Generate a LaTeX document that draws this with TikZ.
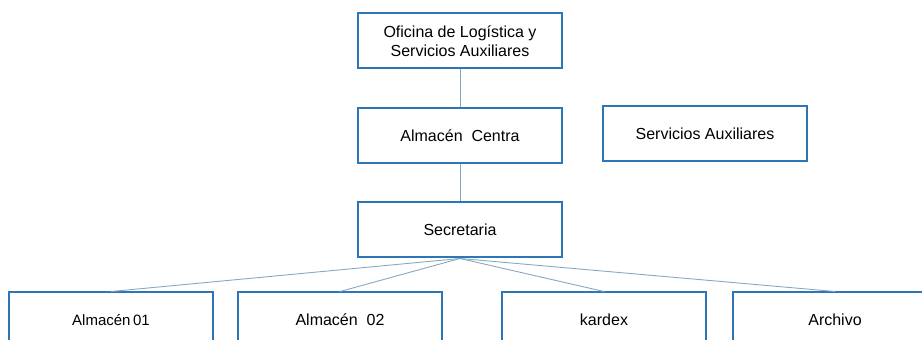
\documentclass[tikz,border=0pt]{standalone}
\usepackage{fontspec}
\setmainfont{Liberation Sans}
\usepackage{tikz}
\usetikzlibrary{positioning}

\definecolor{boxblue}{RGB}{46,117,182}
\definecolor{linkgray}{RGB}{135,168,195}

\begin{document}
\begin{tikzpicture}[x=1pt, y=1pt,
    unit/.style={draw=boxblue, line width=2pt, fill=white, minimum width=204pt,
        minimum height=55pt, inner sep=0pt, align=center,
        font=\fontsize{16}{19}\selectfont},
    link/.style={draw=linkgray, line width=0.9pt}]

\useasboundingbox (0,0) rectangle (922,340);

\node[unit] (ofi) at (460,299) {Oficina de Log\'istica y\\Servicios Auxiliares};
\node[unit] (cen) at (460,204) {Almac\'en\ \ Centra};
\node[unit] (aux) at (705,206) {Servicios Auxiliares};
\node[unit] (sec) at (460,110) {Secretaria};

\node[unit, font=\fontsize{15}{18}\selectfont] (alm1) at (111,20) {Almac\'en\,01};
\node[unit] (alm2) at (340,20) {Almac\'en\ \ 02};
\node[unit] (kar) at (604,20) {kardex};
\node[unit] (arc) at (835,20) {Archivo};

\path[link] (ofi) -- (cen);
\path[link] (cen) -- (sec);

\foreach \n in {alm1,alm2,kar,arc}
    \path[link] (sec.south) -- (\n.north);

\end{tikzpicture}
\end{document}
